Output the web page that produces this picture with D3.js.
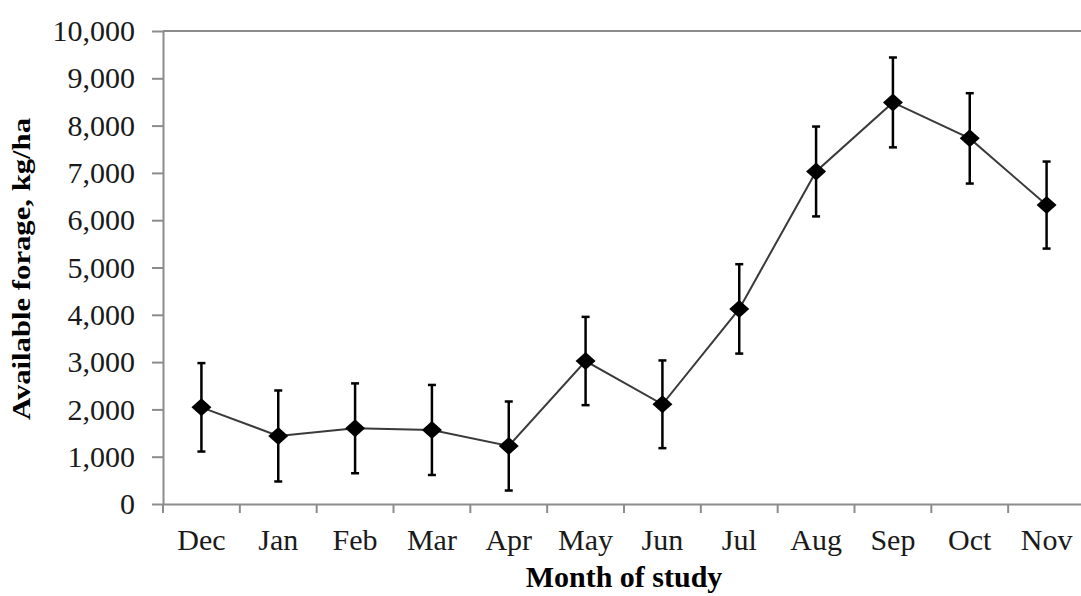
<!DOCTYPE html>
<html>
<head>
<meta charset="utf-8">
<script src="https://cdn.jsdelivr.net/npm/d3@7"></script>
<style>
  body { margin: 0; background: #fff; }
  svg { display: block; }
</style>
</head>
<body>
<div id="chart"></div>
<script>
// data
var months = ["Dec", "Jan", "Feb", "Mar", "Apr", "May", "Jun", "Jul", "Aug", "Sep", "Oct", "Nov"];
var forage = [2044, 1438, 1600, 1565, 1226, 3023, 2108, 4125, 7030, 8490, 7730, 6320];
var errors = [935, 962, 950, 952, 941, 933, 927, 945, 950, 950, 955, 920];
var yTicks = [0, 1000, 2000, 3000, 4000, 5000, 6000, 7000, 8000, 9000, 10000];

var width = 1081, height = 596;
var margin = {top: 31, right: -4, bottom: 92, left: 163};

var svg = d3.select("#chart")
    .append("svg")
    .attr("width", width)
    .attr("height", height);

var x = d3.scaleBand()
    .domain(months)
    .range([margin.left, width - margin.right])
    .padding(0);

var y = d3.scaleLinear()
    .domain([0, 10000])
    .range([height - margin.bottom, margin.top]);

var axisColor = "#8c8c8c";
var font = "'Liberation Serif', 'Times New Roman', serif";

// top border of plot area
svg.append("line")
    .attr("x1", margin.left).attr("x2", width - margin.right)
    .attr("y1", y(10000)).attr("y2", y(10000))
    .attr("stroke", axisColor)
    .attr("stroke-width", 2);

// y axis
var yAxis = svg.append("g")
    .attr("transform", "translate(" + margin.left + ",0)")
    .call(d3.axisLeft(y).tickValues(yTicks).tickFormat(d3.format(",")).tickSize(11).tickSizeOuter(0).tickPadding(17));

yAxis.select(".domain").attr("stroke", axisColor).attr("stroke-width", 2);
yAxis.selectAll(".tick line").attr("stroke", axisColor).attr("stroke-width", 2);
yAxis.selectAll("text")
    .attr("fill", "#1a1a1a")
    .style("font-family", font)
    .style("font-size", "30px");

// x axis (labels at band centres)
var xAxis = svg.append("g")
    .attr("transform", "translate(0," + y(0) + ")")
    .call(d3.axisBottom(x).tickSize(0).tickSizeOuter(0).tickPadding(25));

xAxis.select(".domain").attr("stroke", axisColor).attr("stroke-width", 2);
xAxis.selectAll("text")
    .attr("fill", "#1a1a1a")
    .style("font-family", font)
    .style("font-size", "30px");

// tick marks between categories
var bounds = months.map(function(m) { return x(m); });
bounds.push(x(months[months.length - 1]) + x.bandwidth());
svg.append("g")
    .selectAll("line")
    .data(bounds)
    .enter()
    .append("line")
    .attr("x1", function(d) { return d; })
    .attr("x2", function(d) { return d; })
    .attr("y1", y(0))
    .attr("y2", y(0) + 9)
    .attr("stroke", axisColor)
    .attr("stroke-width", 2);

var cx = function(d, i) { return x(months[i]) + x.bandwidth() / 2; };

// connecting line
var line = d3.line()
    .x(function(d, i) { return cx(d, i); })
    .y(function(d) { return y(d); });

svg.append("path")
    .attr("d", line(forage))
    .attr("fill", "none")
    .attr("stroke", "#3a3a3a")
    .attr("stroke-width", 2);

// error bars
var bars = svg.append("g")
    .selectAll("g")
    .data(forage)
    .enter()
    .append("g");

bars.append("line")
    .attr("x1", cx).attr("x2", cx)
    .attr("y1", function(d, i) { return y(d + errors[i]); })
    .attr("y2", function(d, i) { return y(d - errors[i]); })
    .attr("stroke", "#000")
    .attr("stroke-width", 2.5);

[1, -1].forEach(function(s) {
    bars.append("line")
        .attr("x1", function(d, i) { return cx(d, i) - 4; })
        .attr("x2", function(d, i) { return cx(d, i) + 4; })
        .attr("y1", function(d, i) { return y(d + s * errors[i]); })
        .attr("y2", function(d, i) { return y(d + s * errors[i]); })
        .attr("stroke", "#000")
        .attr("stroke-width", 2.5);
});

// diamond markers
bars.append("path")
    .attr("d", function(d, i) {
        var px = cx(d, i), py = y(d);
        return "M" + (px - 10) + "," + py + "L" + px + "," + (py - 9) +
               "L" + (px + 10) + "," + py + "L" + px + "," + (py + 9) + "Z";
    })
    .attr("fill", "#000");

// axis titles
svg.append("text")
    .attr("x", (margin.left + width - margin.right) / 2)
    .attr("y", 587)
    .attr("text-anchor", "middle")
    .style("font-family", font)
    .style("font-size", "30px")
    .style("font-weight", "bold")
    .text("Month of study");

svg.append("text")
    .attr("transform", "translate(30,269) rotate(-90)")
    .attr("text-anchor", "middle")
    .attr("textLength", 302)
    .attr("lengthAdjust", "spacingAndGlyphs")
    .style("font-family", font)
    .style("font-size", "26px")
    .style("font-weight", "bold")
    .text("Available forage, kg/ha");
</script>
</body>
</html>
